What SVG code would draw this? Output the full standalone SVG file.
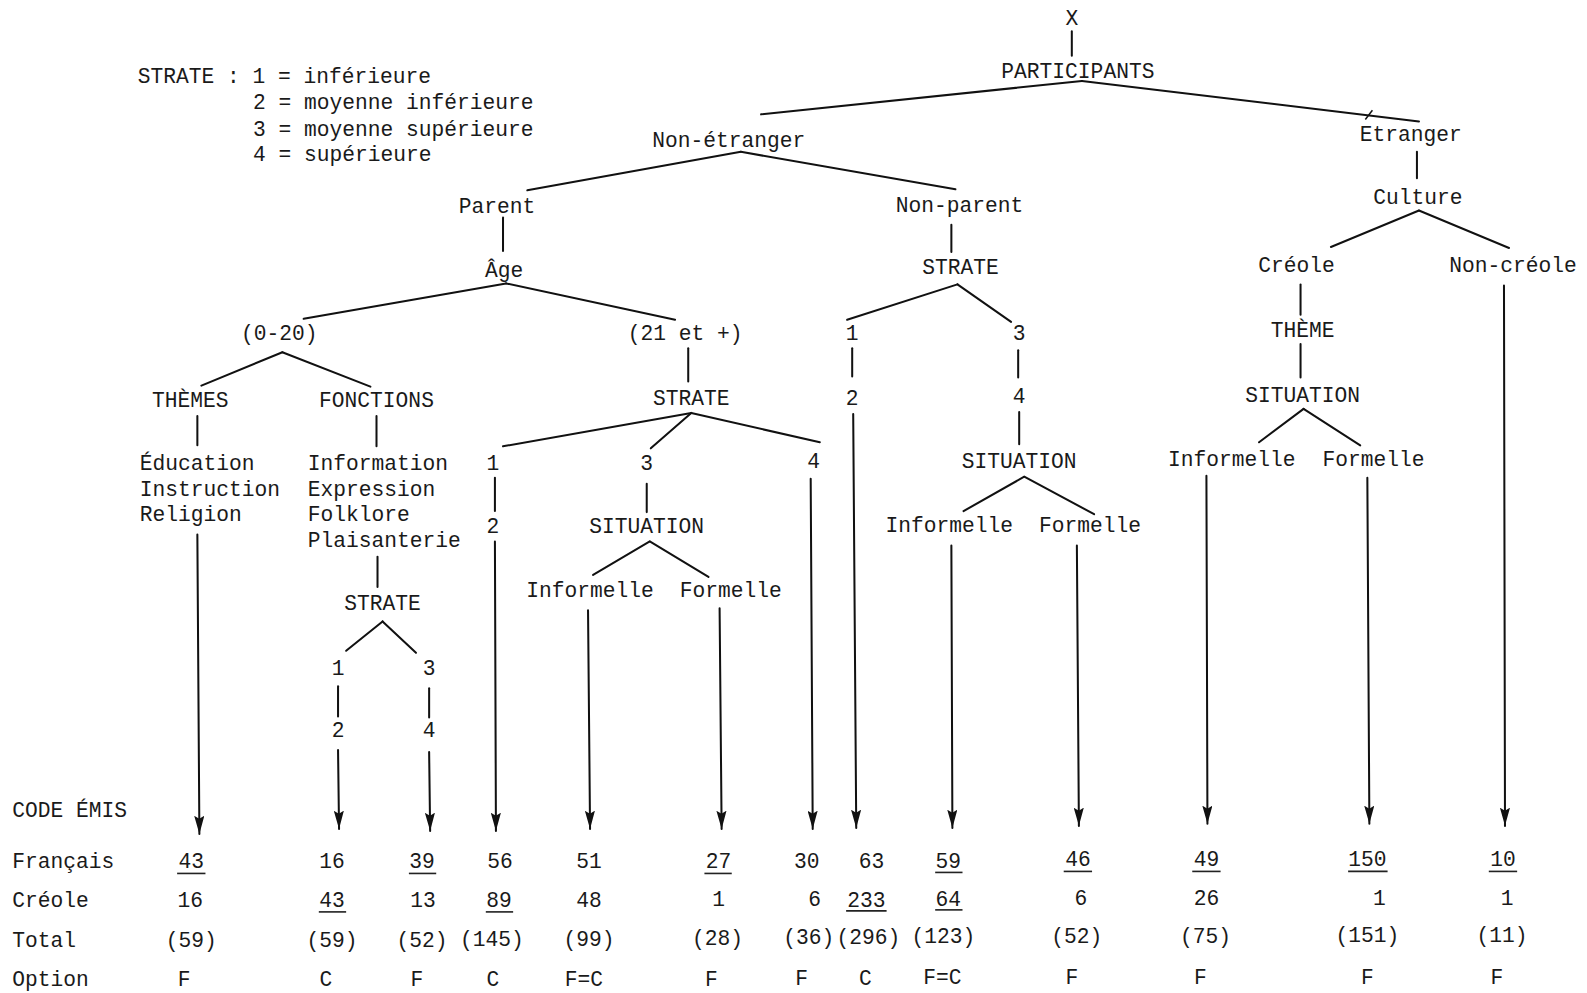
<svg xmlns="http://www.w3.org/2000/svg" width="1587" height="993" viewBox="0 0 1587 993">
<defs>
<style>
text{font-family:"Liberation Mono","DejaVu Sans Mono",monospace;font-size:21px;fill:#1a1a1a;transform:translate(0px,2px)}
.m{text-anchor:middle}
.c line,.c path{stroke:#111;stroke-width:2;fill:none;stroke-linecap:round}
.a{marker-end:url(#arr)}
.u{stroke:#222;stroke-width:1.6}
</style>
<marker id="arr" viewBox="0 0 18 10" refX="18" refY="5" markerWidth="18" markerHeight="10" markerUnits="userSpaceOnUse" orient="auto">
<path d="M0,0 L18,5 L0,10 L3,5 z" fill="#111"/>
</marker>
</defs>
<rect width="1587" height="993" fill="#fff"/>
<g transform="scale(1.0121)">
<g id="legend">
<text x="136" y="80">STRATE : 1 = inférieure</text>
<text x="250" y="106">2 = moyenne inférieure</text>
<text x="250" y="132">3 = moyenne supérieure</text>
<text x="250" y="157">4 = supérieure</text>
</g>
<g id="n_X"><text class="m" x="1059" y="23">X</text></g>
<g id="n_participants"><text class="m" x="1065" y="75">PARTICIPANTS</text></g>
<g id="n_nonetranger"><text class="m" x="720" y="143">Non-étranger</text></g>
<g id="n_etranger"><text class="m" x="1394" y="137">Etranger</text><line x1="1349" y1="118" x2="1356" y2="109" stroke="#111" stroke-width="1.5"/></g>
<g id="n_parent"><text class="m" x="491" y="208">Parent</text></g>
<g id="n_nonparent"><text class="m" x="948" y="207">Non-parent</text></g>
<g id="n_culture"><text class="m" x="1401" y="200">Culture</text></g>
<g id="n_age"><text class="m" x="498" y="272">Âge</text></g>
<g id="n_strate_np"><text class="m" x="949" y="269">STRATE</text></g>
<g id="n_creole"><text class="m" x="1281" y="267">Créole</text></g>
<g id="n_noncreole"><text class="m" x="1495" y="267">Non-créole</text></g>
<g id="n_age020"><text class="m" x="276" y="334">(0-20)</text></g>
<g id="n_age21"><text class="m" x="677" y="334">(21 et +)</text></g>
<g id="n_np1"><text class="m" x="842" y="334">1</text></g>
<g id="n_np3"><text class="m" x="1007" y="334">3</text></g>
<g id="n_theme"><text class="m" x="1287" y="331">THÈME</text></g>
<g id="n_themes"><text class="m" x="188" y="400">THÈMES</text></g>
<g id="n_fonctions"><text class="m" x="372" y="400">FONCTIONS</text></g>
<g id="n_strate21"><text class="m" x="683" y="398">STRATE</text></g>
<g id="n_np2"><text class="m" x="842" y="398">2</text></g>
<g id="n_np4"><text class="m" x="1007" y="396">4</text></g>
<g id="n_sit_cr"><text class="m" x="1287" y="395">SITUATION</text></g>
<g id="n_themes_list"><text x="138" y="462">Éducation</text><text x="138" y="488">Instruction</text><text x="138" y="513">Religion</text></g>
<g id="n_fonctions_list"><text x="304" y="462">Information</text><text x="304" y="488">Expression</text><text x="304" y="513">Folklore</text><text x="304" y="538">Plaisanterie</text></g>
<g id="n_21_1"><text class="m" x="487" y="462">1</text></g>
<g id="n_21_3"><text class="m" x="639" y="462">3</text></g>
<g id="n_21_4"><text class="m" x="804" y="460">4</text></g>
<g id="n_sit_np"><text class="m" x="1007" y="460">SITUATION</text></g>
<g id="n_inf_cr"><text class="m" x="1217" y="458">Informelle</text></g>
<g id="n_form_cr"><text class="m" x="1357" y="458">Formelle</text></g>
<g id="n_21_2"><text class="m" x="487" y="525">2</text></g>
<g id="n_sit_21"><text class="m" x="639" y="525">SITUATION</text></g>
<g id="n_inf_np"><text class="m" x="938" y="524">Informelle</text></g>
<g id="n_form_np"><text class="m" x="1077" y="524">Formelle</text></g>
<g id="n_inf_21"><text class="m" x="583" y="588">Informelle</text></g>
<g id="n_form_21"><text class="m" x="722" y="588">Formelle</text></g>
<g id="n_strate_f"><text class="m" x="378" y="601">STRATE</text></g>
<g id="n_f1"><text class="m" x="334" y="665">1</text></g>
<g id="n_f3"><text class="m" x="424" y="665">3</text></g>
<g id="n_f2"><text class="m" x="334" y="726">2</text></g>
<g id="n_f4"><text class="m" x="424" y="726">4</text></g>
<g id="connectors" class="c">
<line x1="1059" y1="31" x2="1059" y2="55"/>
<line x1="1069" y1="80" x2="752" y2="113"/>
<line x1="1069" y1="80" x2="1402" y2="120"/>
<line x1="1400" y1="150" x2="1400" y2="176"/>
<line x1="732" y1="150" x2="521" y2="188"/>
<line x1="732" y1="150" x2="944" y2="187"/>
<line x1="497" y1="215" x2="497" y2="248"/>
<line x1="940" y1="222" x2="940" y2="249"/>
<line x1="1402" y1="208" x2="1315" y2="244"/>
<line x1="1402" y1="208" x2="1491" y2="245"/>
<line x1="500" y1="280" x2="300" y2="315"/>
<line x1="500" y1="280" x2="667" y2="316"/>
<line x1="946" y1="281" x2="837" y2="316"/>
<line x1="946" y1="281" x2="999" y2="318"/>
<line x1="1285" y1="281" x2="1285" y2="311"/>
<line class="a" x1="1486" y1="282" x2="1487" y2="816"/>
<line x1="279" y1="348" x2="199" y2="381"/>
<line x1="279" y1="348" x2="366" y2="382"/>
<line x1="680" y1="344" x2="680" y2="377"/>
<line x1="842" y1="344" x2="842" y2="372"/>
<line x1="1006" y1="346" x2="1006" y2="373"/>
<line x1="1285" y1="340" x2="1285" y2="373"/>
<line x1="195" y1="411" x2="195" y2="440"/>
<line x1="372" y1="411" x2="372" y2="441"/>
<line x1="683" y1="408" x2="497" y2="441"/>
<line x1="683" y1="408" x2="643" y2="443"/>
<line x1="683" y1="408" x2="810" y2="437"/>
<line class="a" x1="843" y1="409" x2="846" y2="818"/>
<line x1="1007" y1="407" x2="1007" y2="439"/>
<line x1="1288" y1="404" x2="1244" y2="437"/>
<line x1="1288" y1="404" x2="1344" y2="440"/>
<line class="a" x1="195" y1="528" x2="197" y2="824"/>
<line x1="489" y1="472" x2="489" y2="505"/>
<line x1="639" y1="478" x2="639" y2="506"/>
<line class="a" x1="801" y1="473" x2="803" y2="819"/>
<line x1="1012" y1="471" x2="952" y2="505"/>
<line x1="1012" y1="471" x2="1081" y2="508"/>
<line class="a" x1="1192" y1="470" x2="1193" y2="814"/>
<line class="a" x1="1351" y1="472" x2="1353" y2="814"/>
<line class="a" x1="489" y1="535" x2="490" y2="821"/>
<line x1="642" y1="535" x2="586" y2="568"/>
<line x1="642" y1="535" x2="700" y2="570"/>
<line class="a" x1="940" y1="539" x2="941" y2="818"/>
<line class="a" x1="1064" y1="539" x2="1066" y2="816"/>
<line x1="373" y1="550" x2="373" y2="580"/>
<line class="a" x1="581" y1="603" x2="583" y2="819"/>
<line class="a" x1="711" y1="601" x2="713" y2="819"/>
<line x1="378" y1="614" x2="342" y2="643"/>
<line x1="378" y1="614" x2="411" y2="645"/>
<line x1="334" y1="678" x2="334" y2="708"/>
<line x1="424" y1="680" x2="424" y2="709"/>
<line class="a" x1="334" y1="741" x2="335" y2="819"/>
<line class="a" x1="424" y1="743" x2="425" y2="821"/>
</g>
<g id="table">
<text x="12" y="805">CODE ÉMIS</text>
<text x="12" y="856">Français</text>
<text x="12" y="894">Créole</text>
<text x="12" y="934">Total</text>
<text x="12" y="972">Option</text>
<g class="m">
<text class="m" x="189" y="856">43</text><text class="m" x="188" y="894">16</text><text class="m" x="189" y="934">(59)</text><text class="m" x="182" y="972">F</text>
<text class="m" x="328" y="856">16</text><text class="m" x="328" y="894">43</text><text class="m" x="328" y="934">(59)</text><text class="m" x="322" y="972">C</text>
<text class="m" x="417" y="856">39</text><text class="m" x="418" y="894">13</text><text class="m" x="417" y="934">(52)</text><text class="m" x="412" y="972">F</text>
<text class="m" x="494" y="856">56</text><text class="m" x="493" y="894">89</text><text class="m" x="486" y="933">(145)</text><text class="m" x="487" y="972">C</text>
<text class="m" x="582" y="856">51</text><text class="m" x="582" y="894">48</text><text class="m" x="582" y="933">(99)</text><text class="m" x="577" y="972">F=C</text>
<text class="m" x="710" y="856">27</text><text class="m" x="710" y="893">1</text><text class="m" x="709" y="932">(28)</text><text class="m" x="703" y="972" fill="#888">F</text>
<text class="m" x="797" y="856">30</text><text class="m" x="805" y="893">6</text><text class="m" x="799" y="931">(36)</text><text class="m" x="792" y="971">F</text>
<text class="m" x="861" y="856">63</text><text class="m" x="856" y="894">233</text><text class="m" x="858" y="931">(296)</text><text class="m" x="855" y="971">C</text>
<text class="m" x="937" y="856">59</text><text class="m" x="937" y="893">64</text><text class="m" x="932" y="930">(123)</text><text class="m" x="931" y="970">F=C</text>
<text class="m" x="1065" y="854">46</text><text class="m" x="1068" y="892">6</text><text class="m" x="1064" y="930">(52)</text><text class="m" x="1059" y="970">F</text>
<text class="m" x="1192" y="854">49</text><text class="m" x="1192" y="892">26</text><text class="m" x="1191" y="930">(75)</text><text class="m" x="1186" y="970">F</text>
<text class="m" x="1351" y="854">150</text><text class="m" x="1363" y="892">1</text><text class="m" x="1351" y="929">(151)</text><text class="m" x="1351" y="970">F</text>
<text class="m" x="1485" y="854">10</text><text class="m" x="1489" y="892">1</text><text class="m" x="1484" y="929">(11)</text><text class="m" x="1479" y="970">F</text>
</g>
<g id="underlines">
<line class="u" x1="175" y1="863" x2="203" y2="863"/>
<line class="u" x1="404" y1="863" x2="431" y2="863"/>
<line class="u" x1="696" y1="863" x2="723" y2="863"/>
<line class="u" x1="924" y1="862" x2="951" y2="862"/>
<line class="u" x1="1051" y1="861" x2="1079" y2="861"/>
<line class="u" x1="1178" y1="861" x2="1206" y2="861"/>
<line class="u" x1="1332" y1="861" x2="1371" y2="861"/>
<line class="u" x1="1471" y1="861" x2="1499" y2="861"/>
<line class="u" x1="315" y1="901" x2="342" y2="901"/>
<line class="u" x1="480" y1="901" x2="507" y2="901"/>
<line class="u" x1="836" y1="900" x2="876" y2="900"/>
<line class="u" x1="924" y1="899" x2="951" y2="899"/>
</g>
</g>
</g>
</svg>
